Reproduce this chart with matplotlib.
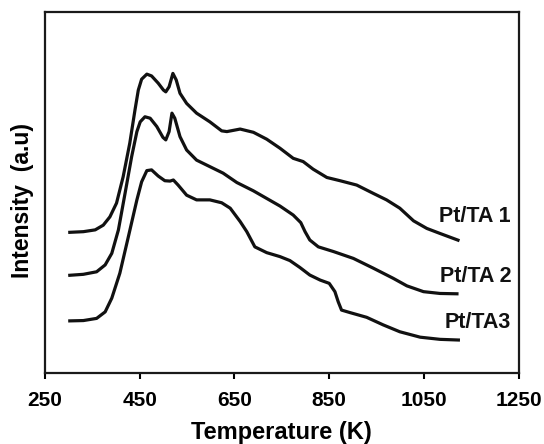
import matplotlib

matplotlib.use("Agg")
import matplotlib.pyplot as plt

plt.rcParams["font.family"] = ["Liberation Sans", "DejaVu Sans"]
plt.rcParams["font.weight"] = "bold"

# TPR-like traces (temperature K, intensity a.u.)
temp_ta1 = [299, 331, 356, 373, 387, 401, 415, 429, 440, 447, 454, 465, 475, 489,
            500, 505, 512, 520, 527, 535, 549, 570, 598, 623, 634, 662, 690, 718,
            746, 774, 795, 816, 845, 873, 908, 943, 971, 999, 1028, 1056, 1084, 1125]
int_ta1 = [39.0, 39.2, 39.7, 41.0, 43.3, 47.1, 54.4, 63.7, 72.9, 78.4, 81.4, 82.8, 82.3, 80.3,
           78.4, 77.9, 79.3, 83.0, 81.2, 77.5, 74.7, 72.0, 69.6, 67.1, 66.9, 67.6, 66.7, 64.8,
           62.3, 59.5, 58.6, 56.5, 54.2, 53.3, 52.1, 49.8, 48.0, 45.7, 42.2, 40.1, 38.7, 36.7]

temp_ta2 = [299, 331, 359, 377, 391, 405, 419, 433, 444, 451, 461, 472, 486, 499,
            505, 512, 518, 524, 535, 549, 570, 598, 626, 655, 690, 718, 746, 774,
            790, 799, 809, 827, 859, 901, 943, 985, 1014, 1049, 1084, 1123]
int_ta2 = [27.1, 27.4, 28.1, 30.0, 33.2, 39.7, 49.8, 60.0, 66.9, 69.6, 71.0, 70.6, 68.3, 65.3,
           64.6, 66.9, 72.0, 70.6, 65.5, 61.8, 59.0, 57.2, 55.4, 52.8, 50.5, 48.4, 46.3, 43.8,
           41.7, 39.2, 36.9, 35.0, 33.7, 31.8, 29.1, 26.3, 24.2, 22.6, 22.1, 22.0]

temp_ta3 = [299, 331, 359, 377, 391, 408, 426, 444, 454, 465, 475, 489, 503, 514,
            521, 531, 549, 570, 598, 623, 641, 662, 676, 693, 718, 746, 767, 788,
            809, 831, 850, 862, 869, 876, 894, 929, 964, 999, 1042, 1084, 1126]
int_ta3 = [14.5, 14.6, 15.2, 17.0, 20.8, 27.7, 37.8, 48.0, 53.0, 56.1, 56.3, 54.6, 53.3, 53.2,
           53.5, 52.1, 49.3, 48.0, 48.0, 47.2, 45.7, 42.0, 39.2, 35.0, 33.4, 32.3, 31.2, 29.3,
           27.2, 25.8, 24.9, 22.6, 19.8, 17.5, 16.8, 15.5, 13.4, 11.5, 10.0, 9.4, 9.2]

series = [
    ("Pt/TA 1", temp_ta1, int_ta1, 1234, 43.5),
    ("Pt/TA 2", temp_ta2, int_ta2, 1235, 26.9),
    ("Pt/TA3", temp_ta3, int_ta3, 1234, 14.0),
]
xticks = [250, 450, 650, 850, 1050, 1250]

fig = plt.figure(figsize=(5.44, 4.44), dpi=100)
ax = fig.add_axes([0.0827, 0.1592, 0.8708, 0.8138])

for name, t, y, lx, ly in series:
    ax.plot(t, y, color="#111111", lw=2.3, solid_joinstyle="round", solid_capstyle="butt")
    ax.text(lx, ly, name, ha="right", va="center", fontsize=15.5, fontweight="bold", color="#111111")

ax.set_xlim(250, 1250)
ax.set_ylim(0, 100)
ax.set_xticks(xticks)
ax.set_yticks([])
ax.tick_params(axis="x", direction="out", length=4.5, width=1.5, pad=8.5, labelsize=15)
for lab in ax.get_xticklabels():
    lab.set_fontweight("bold")
for s in ax.spines.values():
    s.set_linewidth(1.6)
    s.set_color("#1a1a1a")

ax.set_xlabel("Temperature (K)", fontsize=17, fontweight="bold", labelpad=7.5)
ax.set_ylabel("Intensity  (a.u)", fontsize=16.5, fontweight="bold")
ax.yaxis.set_label_coords(-0.023, 0.478)

fig.savefig("out.png", dpi=100)
